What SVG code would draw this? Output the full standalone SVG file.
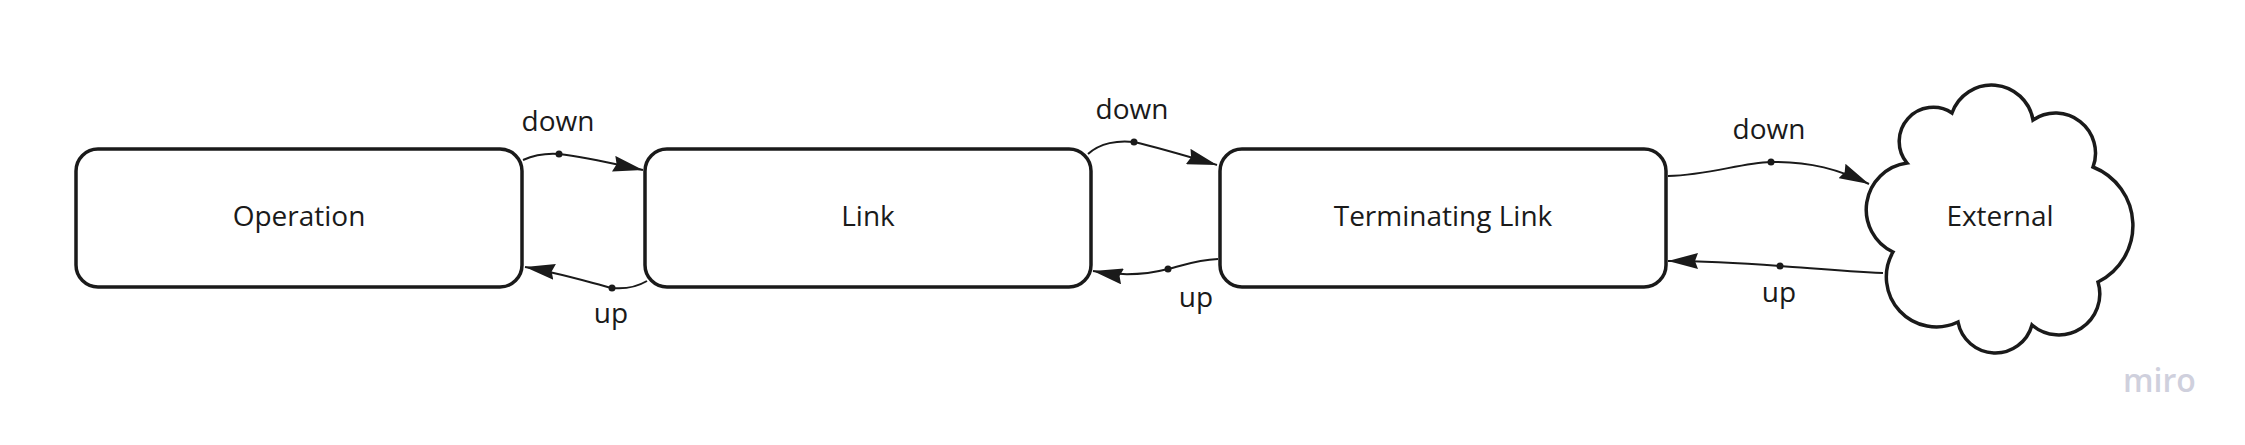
<svg xmlns="http://www.w3.org/2000/svg" width="2245" height="445" viewBox="0 0 2245 445">
  <defs>
    <style>
      .node { fill: #ffffff; stroke: #1a1a1a; stroke-width: 3.5; }
      .label { font-family: "Open Sans", "Liberation Sans", sans-serif; font-size: 28px; fill: #1a1a1a; text-anchor: middle; }
      .edge { fill: none; stroke: #1a1a1a; stroke-width: 2; marker-end: url(#arrow); }
      .dot { fill: #1a1a1a; }
      .wm { font-family: "Open Sans", "Liberation Sans", sans-serif; font-size: 32px; font-weight: 600; fill: #cfd0dd; }
    </style>
    <marker id="arrow" markerUnits="userSpaceOnUse" markerWidth="30" markerHeight="16" viewBox="0 0 30 16" refX="30" refY="8" orient="auto">
      <path d="M0,0 L30,8 L0,16 L3,8 Z" fill="#1a1a1a"/>
    </marker>
  </defs>
  <rect width="2245" height="445" fill="#ffffff"/>

  <g id="connectors">
    <g id="op-link-down">
      <path class="edge" d="M523,160 C532,156 545,153 559,154 C585,157 615,164 643,170"/>
      <circle class="dot" cx="559" cy="154" r="3.5"/>
      <text class="label" x="558" y="131">down</text>
    </g>
    <g id="link-op-up">
      <path class="edge" d="M647,281 C635,288 622,289 612,288 C585,281 555,272 525,267"/>
      <circle class="dot" cx="612" cy="288" r="3.5"/>
      <text class="label" x="611" y="323">up</text>
    </g>
    <g id="link-tl-down">
      <path class="edge" d="M1088,154 C1100,143 1118,140 1134,142 C1160,148 1190,157 1217,165"/>
      <circle class="dot" cx="1134" cy="142" r="3.5"/>
      <text class="label" x="1132" y="119">down</text>
    </g>
    <g id="tl-link-up">
      <path class="edge" d="M1218,259 C1195,260 1182,266 1168,269 C1145,275 1120,276 1093,271"/>
      <circle class="dot" cx="1168" cy="269" r="3.5"/>
      <text class="label" x="1196" y="307">up</text>
    </g>
    <g id="tl-ext-down">
      <path class="edge" d="M1668,176 C1710,175 1740,163 1771,162 C1810,161 1840,170 1869,184"/>
      <circle class="dot" cx="1771" cy="162" r="3.5"/>
      <text class="label" x="1769" y="139">down</text>
    </g>
    <g id="ext-tl-up">
      <path class="edge" d="M1883,273 C1840,271 1810,268 1780,266 C1740,263 1700,261 1668,261"/>
      <circle class="dot" cx="1780" cy="266" r="3.5"/>
      <text class="label" x="1779" y="302">up</text>
    </g>
  </g>

  <g id="node-operation">
    <rect class="node" x="76" y="149" width="446" height="138" rx="22" ry="22"/>
    <text class="label" x="299" y="226">Operation</text>
  </g>
  <g id="node-link">
    <rect class="node" x="645" y="149" width="446" height="138" rx="22" ry="22"/>
    <text class="label" x="868" y="226">Link</text>
  </g>
  <g id="node-terminating-link">
    <rect class="node" x="1220" y="149" width="446" height="138" rx="22" ry="22"/>
    <text class="label" x="1443" y="226">Terminating Link</text>
  </g>
  <g id="node-external">
    <path class="node" d="M1952,113 A42,42 0 0 1 2033,120 A40,40 0 0 1 2093,167 A63,63 0 0 1 2098,282 A41,41 0 0 1 2032,325 A38,38 0 0 1 1958,322 A50,50 0 0 1 1893,252 A47,47 0 0 1 1907,163 A34,34 0 0 1 1952,113 Z"/>
    <text class="label" x="2000" y="226">External</text>
  </g>

  <text class="wm" x="2123" y="392">miro</text>
</svg>
